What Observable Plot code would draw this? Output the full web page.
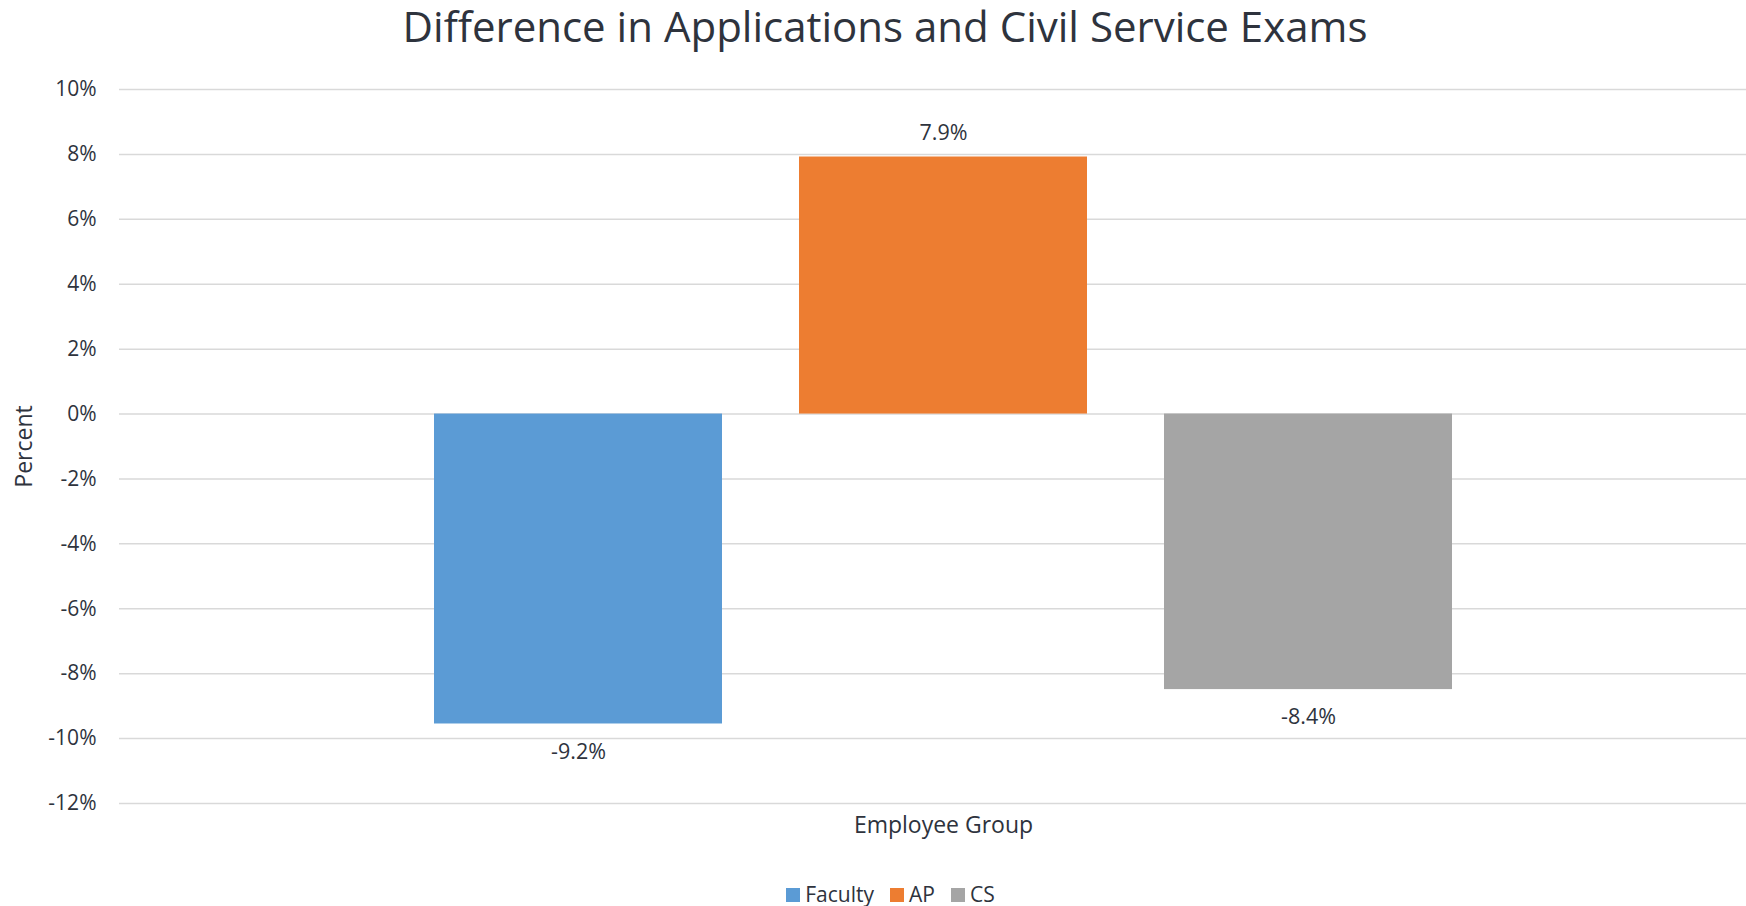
<!DOCTYPE html>
<html>
<head>
<meta charset="utf-8">
<script src="https://cdn.jsdelivr.net/npm/d3@7"></script>
<script src="https://cdn.jsdelivr.net/npm/@observablehq/plot@0.6"></script>
<style>
  html, body { margin: 0; padding: 0; background: #fff; }
  body { width: 1746px; height: 906px; overflow: hidden; font-family: "Open Sans", sans-serif; color: #2e333d; }
  #title { height: 52px; line-height: 52px; font-size: 42px; text-align: center; padding-left: 24px; white-space: nowrap; }
  #legend { margin-top: 30px; line-height: 24px; font-size: 21px; text-align: center; padding-left: 35px; white-space: nowrap; }
  .sw { display: inline-block; width: 14px; height: 14px; margin-right: 5px; vertical-align: baseline; }
  .item { margin: 0 8px; }
  svg { display: block; }
</style>
</head>
<body>
<div id="title"></div>
<div id="chart"></div>
<div id="legend"></div>
<script>
const titleText = "Difference in Applications and Civil Service Exams";
const groups = ["Faculty", "AP", "CS"];
const values = [-9.55, 7.92, -8.49];
const valueLabels = ["-9.2%", "7.9%", "-8.4%"];
const colors = ["#5B9BD5", "#ED7D31", "#A5A5A5"];
const yTicks = [10, 8, 6, 4, 2, 0, -2, -4, -6, -8, -10, -12];
const yLabel = "Percent";
const xLabel = "Employee Group";

const data = groups.map((g, i) => ({group: g, value: values[i], label: valueLabels[i]}));

document.getElementById("title").textContent = titleText;

const chart = Plot.plot({
  width: 1746,
  height: 800,
  marginLeft: 119,
  marginRight: 0,
  marginTop: 37,
  marginBottom: 49,
  style: {fontFamily: "'Open Sans', sans-serif", fontSize: "21px", color: "#2e333d", background: "white"},
  x: {type: "band", domain: groups, range: [434, 1453], paddingInner: 0.21, paddingOuter: 0, axis: null},
  y: {domain: [-12, 10], ticks: yTicks, tickFormat: d => `${d}%`, tickSize: 0, tickPadding: 23, label: null},
  color: {domain: groups, range: colors},
  marks: [
    Plot.ruleY(yTicks, {stroke: "#d9d9d9", strokeWidth: 1.5}),
    Plot.barY(data, {x: "group", y: "value", fill: "group"}),
    Plot.text(data.filter(d => d.value >= 0), {x: "group", y: "value", text: "label", dy: -24, fontSize: 21.5, fill: "currentColor"}),
    Plot.text(data.filter(d => d.value < 0), {x: "group", y: "value", text: "label", dy: 28, fontSize: 21.5, fill: "currentColor"}),
    Plot.text([yLabel], {frameAnchor: "left", textAnchor: "middle", rotate: -90, dx: -94.5, fontSize: 23, fill: "currentColor"}),
    Plot.text([xLabel], {frameAnchor: "bottom", textAnchor: "middle", lineAnchor: "bottom", dx: 10.5, dy: 29.7, fontSize: 23, fill: "currentColor"})
  ]
});
document.getElementById("chart").appendChild(chart);

const legend = document.getElementById("legend");
groups.forEach((g, i) => {
  const item = document.createElement("span");
  item.className = "item";
  const sw = document.createElement("span");
  sw.className = "sw";
  sw.style.background = colors[i];
  item.appendChild(sw);
  item.appendChild(document.createTextNode(g));
  legend.appendChild(item);
});
</script>
</body>
</html>
